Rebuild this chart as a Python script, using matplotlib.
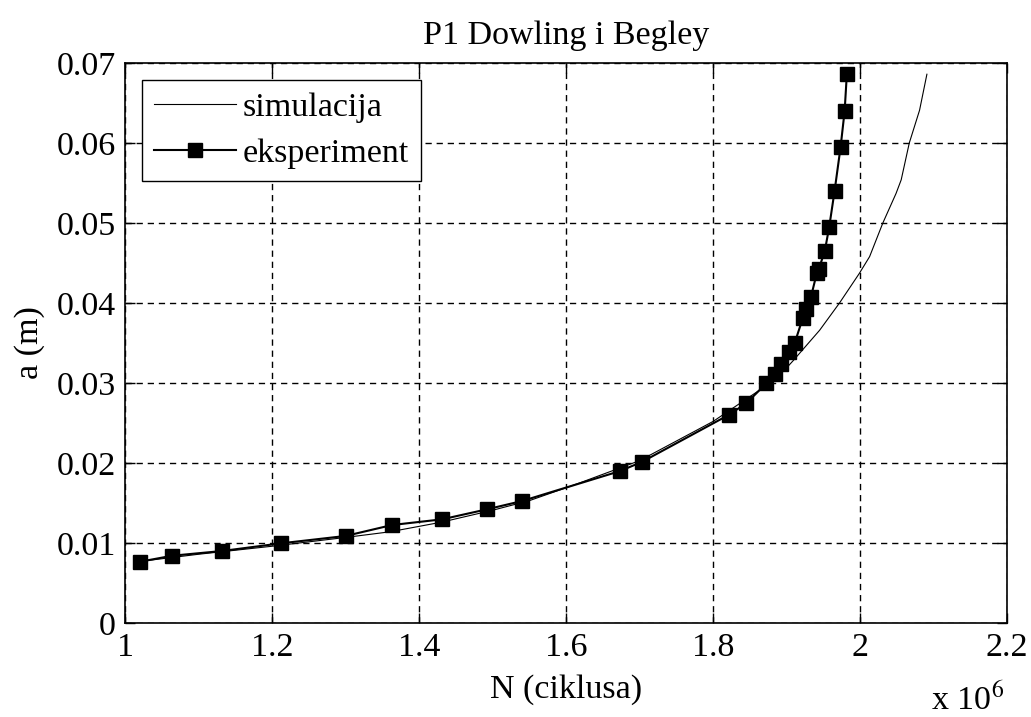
"""
P1 Dowling i Begley - rast pukotine, simulacija vs eksperiment
"""

import matplotlib
matplotlib.use('Agg')
import matplotlib.pyplot as plt

# Podaci (N u milijunima ciklusa, a u metrima)
n_sim = [1.02, 1.10, 1.20, 1.30, 1.36, 1.43, 1.50, 1.55, 1.618, 1.70, 1.80,
         1.863, 1.897, 1.909, 1.945, 1.972, 1.999, 2.013, 2.031, 2.049, 2.056,
         2.067, 2.081, 2.091]
a_sim = [0.0077, 0.0086, 0.0096, 0.0107, 0.0114, 0.0126, 0.0141, 0.0153, 0.0175,
         0.0203, 0.0252, 0.0291, 0.0316, 0.0328, 0.0366, 0.0400, 0.0437, 0.0458,
         0.0500, 0.0537, 0.0554, 0.0600, 0.0641, 0.0686]

n_exp = [1.0197, 1.0637, 1.1315, 1.2118, 1.2996, 1.363, 1.431, 1.492, 1.540,
         1.6735, 1.7037, 1.821, 1.845, 1.8725, 1.884, 1.892, 1.9035, 1.911,
         1.922, 1.926, 1.933, 1.941, 1.944, 1.952, 1.958, 1.9653, 1.9735, 1.979, 1.982]
a_exp = [0.00766, 0.00841, 0.0090, 0.00996, 0.01088, 0.01225, 0.01296, 0.01421, 0.01525,
         0.0190, 0.02017, 0.0260, 0.02746, 0.02996, 0.0311, 0.03237, 0.0339, 0.0350,
         0.0381, 0.0393, 0.0407, 0.0437, 0.0443, 0.0465, 0.0495, 0.0540, 0.0595, 0.0640, 0.0686]

x_ticks = [1.0, 1.2, 1.4, 1.6, 1.8, 2.0, 2.2]
x_labels = ['1', '1.2', '1.4', '1.6', '1.8', '2', '2.2']
y_ticks = [0, 0.01, 0.02, 0.03, 0.04, 0.05, 0.06, 0.07]
y_labels = ['0', '0.01', '0.02', '0.03', '0.04', '0.05', '0.06', '0.07']

plt.rcParams['font.family'] = ['Liberation Serif', 'DejaVu Serif']
plt.rcParams['mathtext.fontset'] = 'stix'
fs = 24.5

fig = plt.figure(figsize=(10.31, 7.17), dpi=100)
ax = fig.add_axes([0.1217, 0.1311, 0.8550, 0.7810])

ax.plot(n_sim, a_sim, color='black', linewidth=0.8, label='simulacija')
ax.plot(n_exp, a_exp, color='black', linewidth=1.5, marker='s', markersize=10.5,
        label='eksperiment')

ax.set_xlim(1.0, 2.2)
ax.set_ylim(0, 0.07)
ax.set_xticks(x_ticks)
ax.set_xticklabels(x_labels)
ax.set_yticks(y_ticks)
ax.set_yticklabels(y_labels)
ax.tick_params(direction='in', length=7, width=1, labelsize=fs, top=True, right=True,
               pad=7)

ax.grid(True, color='black', linestyle=(0, (4.5, 3.5)), linewidth=1.0)
for s in ax.spines.values():
    s.set_linewidth(1.2)

ax.set_title('P1 Dowling i Begley', fontsize=fs, pad=14)
ax.set_xlabel('N (ciklusa)', fontsize=fs, labelpad=8)
ax.set_ylabel('a (m)', fontsize=fs, labelpad=8)

leg = ax.legend(loc='upper left', fontsize=fs, fancybox=False, framealpha=1,
                edgecolor='black', handlelength=2.4, borderaxespad=0.5,
                borderpad=0.35, labelspacing=0.45, handletextpad=0.2)
leg.get_frame().set_linewidth(1.0)

fig.text(0.938, 0.024, r'x 10$^{6}$', fontsize=fs, ha='center', va='center')

fig.savefig('out.png', dpi=100)
